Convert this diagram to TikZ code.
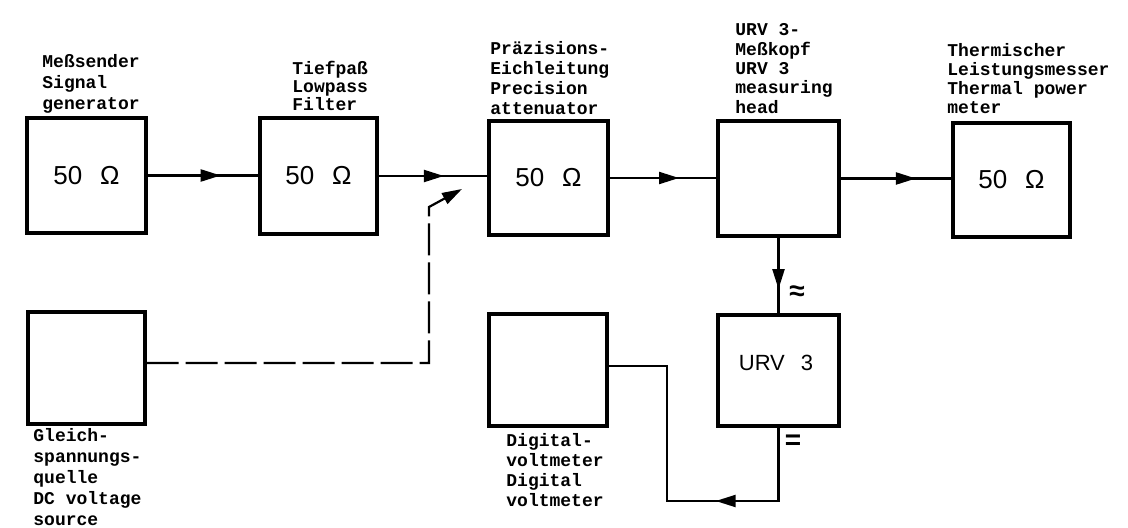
\documentclass[tikz,border=0pt]{standalone}
\usepackage{fontspec}
\setmainfont{Liberation Sans}
\newfontfamily\twfont{Liberation Mono}
\usetikzlibrary{arrows.meta,decorations.markings}
\begin{document}
\begin{tikzpicture}[x=0.5pt,y=-0.5pt,
  blk/.style={draw, line width=1.7pt, inner sep=0pt},
  lbl/.style={font=\twfont\bfseries\fontsize{9}{#1}\selectfont, align=left, anchor=west, inner sep=0pt},
  lbl/.default=10,
  con/.style={line width=1.1pt},
  midarr/.style={postaction={decorate}, decoration={markings, mark=at position #1 with {\arrow{Triangle[length=10pt,width=6pt]}}}},
  endtip/.style={-{Triangle[length=10pt,width=6pt]}},
  dsh/.style={dash pattern=on 16pt off 3.5pt},
  val/.style={font=\fontsize{13}{15}\selectfont},
  urv/.style={font=\fontsize{11}{13}\selectfont},
  sym/.style={font=\bfseries\fontsize{14}{16}\selectfont, inner sep=0pt}
]
\useasboundingbox (0,0) rectangle (1128,528);

% boxes
\node[blk, minimum width=59.5pt, minimum height=57.5pt] (b1) at (86.5,175.5) {};
\node[blk, minimum width=58.5pt, minimum height=58pt] (b2) at (318.5,176) {};
\node[blk, minimum width=59.5pt, minimum height=57pt] (b3) at (548.5,178) {};
\node[blk, minimum width=60.5pt, minimum height=57.5pt] (b4) at (778.5,178.5) {};
\node[blk, minimum width=58.5pt, minimum height=57pt] (b5) at (1011.5,180) {};
\node[blk, minimum width=58.5pt, minimum height=56pt] (b6) at (86.5,368) {};
\node[blk, minimum width=59pt, minimum height=56pt] (b7) at (548,370) {};
\node[blk, minimum width=60.5pt, minimum height=55.5pt] (b8) at (778.5,370.5) {};

% box texts
\node[val] (t1) at (b1) {50\hspace{9pt}Ω};
\node[val] (t2) at (b2) {50\hspace{9pt}Ω};
\node[val] (t3) at (b3) {50\hspace{9pt}Ω};
\node[val] (t5) at (b5) {50\hspace{9pt}Ω};
\node[urv] (t8) at (776,363) {URV\hspace{8pt}3};

% labels
\node[lbl=10.5] (l1) at (42,84) {Meßsender\\Signal\\generator};
\node[lbl=9] (l2) at (292,85.5) {Tiefpaß\\Lowpass\\Filter};
\node[lbl=10] (l3) at (490,78) {Präzisions-\\Eichleitung\\Precision\\attenuator};
\node[lbl=9.7] (l4) at (735,68.5) {URV 3-\\Meßkopf\\URV 3\\measuring\\head};
\node[lbl=9.5] (l5) at (947,79) {Thermischer\\Leistungsmesser\\Thermal power\\meter};
\node[lbl=10.5] (l6) at (33,477) {Gleich-\\spannungs-\\quelle\\DC voltage\\source};
\node[lbl=10] (l7) at (506,470) {Digital-\\voltmeter\\Digital\\voltmeter};

% symbols
\node[sym] (ac) at (797,293) {≈};
\node[sym] (dc) at (793,442) {=};

% main signal chain
\draw[con, midarr=0.66] (b1.east) -- (b1.east -| b2.west);
\draw[con, midarr=0.6] (b2.east) -- (b2.east -| b3.west);
\draw[con, midarr=0.65] (b3.east) -- (b3.east -| b4.west);
\draw[con, midarr=0.68] (b4.east) -- (b4.east -| b5.west);
\draw[con, midarr=0.68] (b4.south) -- (b8.north);

% URV3 -> digital voltmeter
\coordinate (k1) at (778.5,501);
\coordinate (k2) at (667,501);
\coordinate (k3) at (667,366);
\draw[con, midarr=0.36] (b8.south) -- (k1) -- (k2) -- (k3) -- (k3 -| b7.east);

% DC source dashed line
\coordinate (d1) at (429,363);
\coordinate (d2) at (429,207);
\coordinate (d3) at (462,189);
\draw[con, dsh, endtip] (b6.east |- d1) -- (d1) -- (d2) -- (d3);
\end{tikzpicture}
\end{document}
